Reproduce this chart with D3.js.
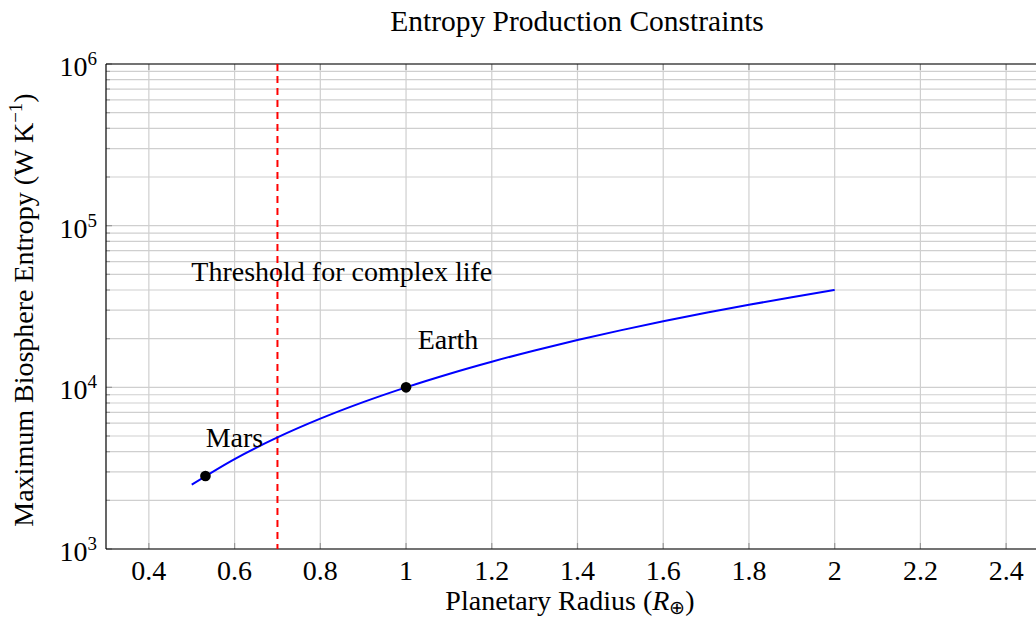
<!DOCTYPE html>
<html><head><meta charset="utf-8">
<script src="https://cdn.jsdelivr.net/npm/d3@7"></script>
<style>
body{margin:0;background:#fff;}
text{font-family:"Liberation Serif","Times New Roman",serif;fill:#000;}
</style></head><body>
<svg id="c" width="1036" height="621"></svg>
<script>
// Data
const radius = [0.5,0.6,0.7,0.8,0.9,1.0,1.1,1.2,1.3,1.4,1.5,1.6,1.7,1.8,1.9,2.0];
const entropy = [2500,3600,4900,6400,8100,10000,12100,14400,16900,19600,22500,25600,28900,32400,36100,40000];
const pointNames = ["Mars","Earth"];
const pointRadius = [0.532,1.0];
const pointEntropy = [2830,10000];
const thresholdRadius = 0.7;
const xTicks = [0.4,0.6,0.8,1,1.2,1.4,1.6,1.8,2,2.2,2.4];
const yDecades = [3,4,5,6];

const svg = d3.select("#c");
const L=106, R=1049, T=64, B=549;
const x = d3.scaleLinear().domain([0.3,2.5]).range([L,R]);
const y = d3.scaleLog().domain([1e3,1e6]).range([B,T]);

const minor = [];
for (let d=3; d<6; d++) for (let k=2;k<=9;k++) minor.push(k*Math.pow(10,d));

const g = svg.append("g");
// grid
g.selectAll(".gx").data(xTicks).enter().append("line")
 .attr("x1",d=>x(d)).attr("x2",d=>x(d)).attr("y1",T).attr("y2",B)
 .attr("stroke","#cfcfcf").attr("stroke-width",1.2);
g.selectAll(".gym").data(minor).enter().append("line")
 .attr("x1",L).attr("x2",R).attr("y1",d=>y(d)).attr("y2",d=>y(d))
 .attr("stroke","#cfcfcf").attr("stroke-width",1.2);
g.selectAll(".gy").data(yDecades).enter().append("line")
 .attr("x1",L).attr("x2",R).attr("y1",d=>y(Math.pow(10,d))).attr("y2",d=>y(Math.pow(10,d)))
 .attr("stroke","#cfcfcf").attr("stroke-width",1.2);

// inward ticks
xTicks.forEach(t=>{
  g.append("line").attr("x1",x(t)).attr("x2",x(t)).attr("y1",B).attr("y2",B-6).attr("stroke","#999").attr("stroke-width",1.2);
  g.append("line").attr("x1",x(t)).attr("x2",x(t)).attr("y1",T).attr("y2",T+6).attr("stroke","#999").attr("stroke-width",1.2);
});
minor.forEach(t=>{
  g.append("line").attr("x1",L).attr("x2",L+4).attr("y1",y(t)).attr("y2",y(t)).attr("stroke","#999").attr("stroke-width",1.2);
});
yDecades.forEach(t=>{
  g.append("line").attr("x1",L).attr("x2",L+6).attr("y1",y(Math.pow(10,t))).attr("y2",y(Math.pow(10,t))).attr("stroke","#999").attr("stroke-width",1.2);
});

// frame
g.append("line").attr("x1",L).attr("x2",R).attr("y1",T).attr("y2",T).attr("stroke","#000").attr("stroke-width",1.2);
g.append("line").attr("x1",L).attr("x2",R).attr("y1",B).attr("y2",B).attr("stroke","#000").attr("stroke-width",1.2);
g.append("line").attr("x1",L).attr("x2",L).attr("y1",T).attr("y2",B).attr("stroke","#000").attr("stroke-width",1.2);

// threshold
g.append("line").attr("x1",x(thresholdRadius)).attr("x2",x(thresholdRadius)).attr("y1",T).attr("y2",B)
 .attr("stroke","#ff0000").attr("stroke-width",2).attr("stroke-dasharray","7,5");

// curve
const pts = radius.map((r,i)=>[r,entropy[i]]);
g.append("path").datum(pts)
 .attr("d",d3.line().x(d=>x(d[0])).y(d=>y(d[1])).curve(d3.curveMonotoneX))
 .attr("fill","none").attr("stroke","#0000ff").attr("stroke-width",2);

// points
g.selectAll(".pt").data(pointNames).enter().append("circle")
 .attr("cx",(d,i)=>x(pointRadius[i])).attr("cy",(d,i)=>y(pointEntropy[i])).attr("r",5.3).attr("fill","#000");

// labels
const fs = 28, sup = 19;
svg.append("text").attr("x",x(0.532)+29).attr("y",y(2830)-29).attr("text-anchor","middle").attr("font-size",fs).text("Mars");
svg.append("text").attr("x",x(1.0)+42).attr("y",y(10000)-38).attr("text-anchor","middle").attr("font-size",fs).text("Earth");
svg.append("text").attr("x",x(0.85)).attr("y",y(5.2e4)+9).attr("text-anchor","middle").attr("font-size",fs).text("Threshold for complex life");

// x tick labels
svg.selectAll(".xl").data(xTicks).enter().append("text")
 .attr("x",d=>x(d)).attr("y",B+31).attr("text-anchor","middle").attr("font-size",fs)
 .text(d=>String(d));
// y tick labels
yDecades.forEach(e=>{
  const t = svg.append("text").attr("x",L-9).attr("y",y(Math.pow(10,e))+12).attr("text-anchor","end").attr("font-size",fs);
  t.append("tspan").text("10");
  t.append("tspan").attr("dy",-11).attr("font-size",sup).text(String(e));
});

// title
svg.append("text").attr("x",577).attr("y",31).attr("text-anchor","middle").attr("font-size",29.5).text("Entropy Production Constraints");
// x axis label
const xl = svg.append("text").attr("x",570).attr("y",610).attr("text-anchor","middle").attr("font-size",fs);
xl.append("tspan").text("Planetary Radius (");
xl.append("tspan").attr("font-style","italic").text("R");
xl.append("tspan").attr("dy",4).attr("font-size",sup).text("⊕");
xl.append("tspan").attr("dy",-4).text(")");
// y axis label
const yl = svg.append("text").attr("transform","translate(33,310) rotate(-90)").attr("text-anchor","middle").attr("font-size",fs);
yl.append("tspan").text("Maximum Biosphere Entropy (W K");
yl.append("tspan").attr("dy",-11).attr("font-size",sup).text("−1");
yl.append("tspan").attr("dy",11).text(")");
</script></body></html>
